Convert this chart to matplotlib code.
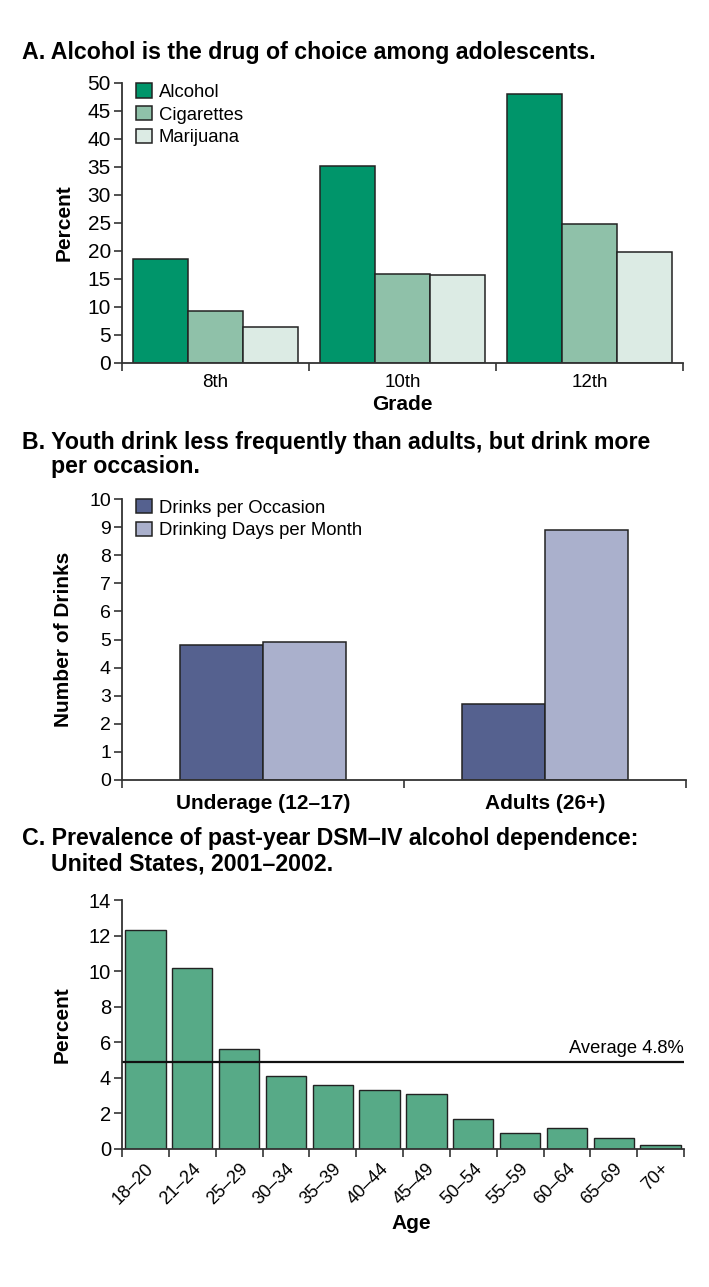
import numpy as np
import matplotlib
matplotlib.use("Agg")
import matplotlib.pyplot as plt

plt.rcParams['font.family'] = ['Liberation Sans', 'DejaVu Sans']

# panel A
grades = ["8th", "10th", "12th"]
alcohol = [18.5, 35.2, 48.0]
cigarettes = [9.2, 15.9, 24.9]
marijuana = [6.4, 15.8, 19.8]

# panel B
groups_b = ["Underage (12\u201317)", "Adults (26+)"]
drinks_per_occasion = [4.8, 2.7]
days_per_month = [4.9, 8.9]

# panel C
ages = ["18\u201320", "21\u201324", "25\u201329", "30\u201334", "35\u201339", "40\u201344",
        "45\u201349", "50\u201354", "55\u201359", "60\u201364", "65\u201369", "70+"]
prevalence = [12.3, 10.2, 5.6, 4.1, 3.6, 3.3, 3.1, 1.7, 0.9, 1.2, 0.6, 0.2]
average = 4.9
average_label = "Average 4.8%"

W, H = 709, 1287
fig = plt.figure(figsize=(W / 100, H / 100), dpi=100)


def axes_px(left, right, top, bottom):
    return fig.add_axes([left / W, 1 - bottom / H, (right - left) / W, (bottom - top) / H])


def style(ax, n):
    for s in ("top", "right"):
        ax.spines[s].set_visible(False)
    for s in ("left", "bottom"):
        ax.spines[s].set_linewidth(1.3)
        ax.spines[s].set_color("#333333")
    ax.set_xlim(0, n)
    ax.set_xticks(np.arange(n) + 0.5)
    ax.set_xticks(np.arange(n + 1), minor=True)
    ax.tick_params(axis="x", which="major", length=0, pad=8)
    ax.tick_params(axis="x", which="minor", length=6, width=1.2, color="#333333")
    ax.tick_params(axis="y", length=6, width=1.2, color="#333333", pad=2)


def title(x, y, lines):
    for i, line in enumerate(lines):
        fig.text((x if i == 0 else x + 29) / W, 1 - (y + i * 25) / H, line,
                 fontsize=16.7, fontweight="bold", va="center", ha="left")


def legend(ax):
    ax.legend(loc="upper left", bbox_to_anchor=(-0.005, 1.06), frameon=False, fontsize=13.3,
              handlelength=0.85, handleheight=0.85, handletextpad=0.4, labelspacing=0.28)


edge = "#222222"

# ---- A ----
title(22, 52, ["A. Alcohol is the drug of choice among adolescents."])
ax = axes_px(122, 683, 83, 363)
x = np.arange(3) + 0.5
w = 0.295
ax.bar(x - w, alcohol, w, color="#00956a", edgecolor=edge, linewidth=1.1, label="Alcohol")
ax.bar(x, cigarettes, w, color="#8fc1a9", edgecolor=edge, linewidth=1.1, label="Cigarettes")
ax.bar(x + w, marijuana, w, color="#dcebe4", edgecolor=edge, linewidth=1.1, label="Marijuana")
style(ax, 3)
ax.set_ylim(0, 50)
ax.set_yticks(np.arange(0, 51, 5))
ax.set_xticklabels(grades, fontsize=13.5)
ax.tick_params(axis="y", labelsize=15)
ax.set_xlabel("Grade", fontsize=15, fontweight="bold", labelpad=3)
ax.set_ylabel("Percent", fontsize=15, fontweight="bold")
ax.yaxis.set_label_coords((74 - 122) / 561, 0.5)
legend(ax)

# ---- B ----
title(22, 442, ["B. Youth drink less frequently than adults, but drink more",
                "per occasion."])
ax = axes_px(122, 686, 499, 780)
x = np.arange(2) + 0.5
w = 0.293
ax.bar(x - w / 2, drinks_per_occasion, w, color="#55618f", edgecolor=edge, linewidth=1.1,
       label="Drinks per Occasion")
ax.bar(x + w / 2, days_per_month, w, color="#aab0cc", edgecolor=edge, linewidth=1.1,
       label="Drinking Days per Month")
style(ax, 2)
ax.set_ylim(0, 10)
ax.set_yticks(np.arange(0, 11, 1))
ax.set_xticklabels(groups_b, fontsize=15, fontweight="bold")
ax.tick_params(axis="x", which="major", pad=10)
ax.tick_params(axis="y", labelsize=14)
ax.set_ylabel("Number of Drinks", fontsize=15, fontweight="bold")
ax.yaxis.set_label_coords((73 - 122) / 564, 0.5)
legend(ax)

# ---- C ----
title(22, 839, ["C. Prevalence of past-year DSM\u2013IV alcohol dependence:",
                "United States, 2001\u20132002."])
ax = axes_px(122, 684, 900, 1149)
x = np.arange(len(ages)) + 0.5
ax.bar(x, prevalence, 0.86, color="#57aa87", edgecolor=edge, linewidth=1.0)
style(ax, len(ages))
ax.set_ylim(0, 14)
ax.set_yticks(np.arange(0, 15, 2))
ax.set_xticklabels(ages, fontsize=13, rotation=45, ha="right", rotation_mode="anchor")
ax.tick_params(axis="x", which="major", pad=8)
ax.tick_params(axis="y", labelsize=14.5)
ax.axhline(average, color="#111111", linewidth=1.6)
ax.text(len(ages), average + 0.25, average_label, ha="right", va="bottom", fontsize=13.2)
ax.set_xlabel("Age", fontsize=15, fontweight="bold")
ax.xaxis.set_label_coords((411 - 122) / 562, -0.262)
ax.set_ylabel("Percent", fontsize=15, fontweight="bold")
ax.yaxis.set_label_coords((72 - 122) / 562, 0.5)

fig.savefig("out.png", dpi=100)
